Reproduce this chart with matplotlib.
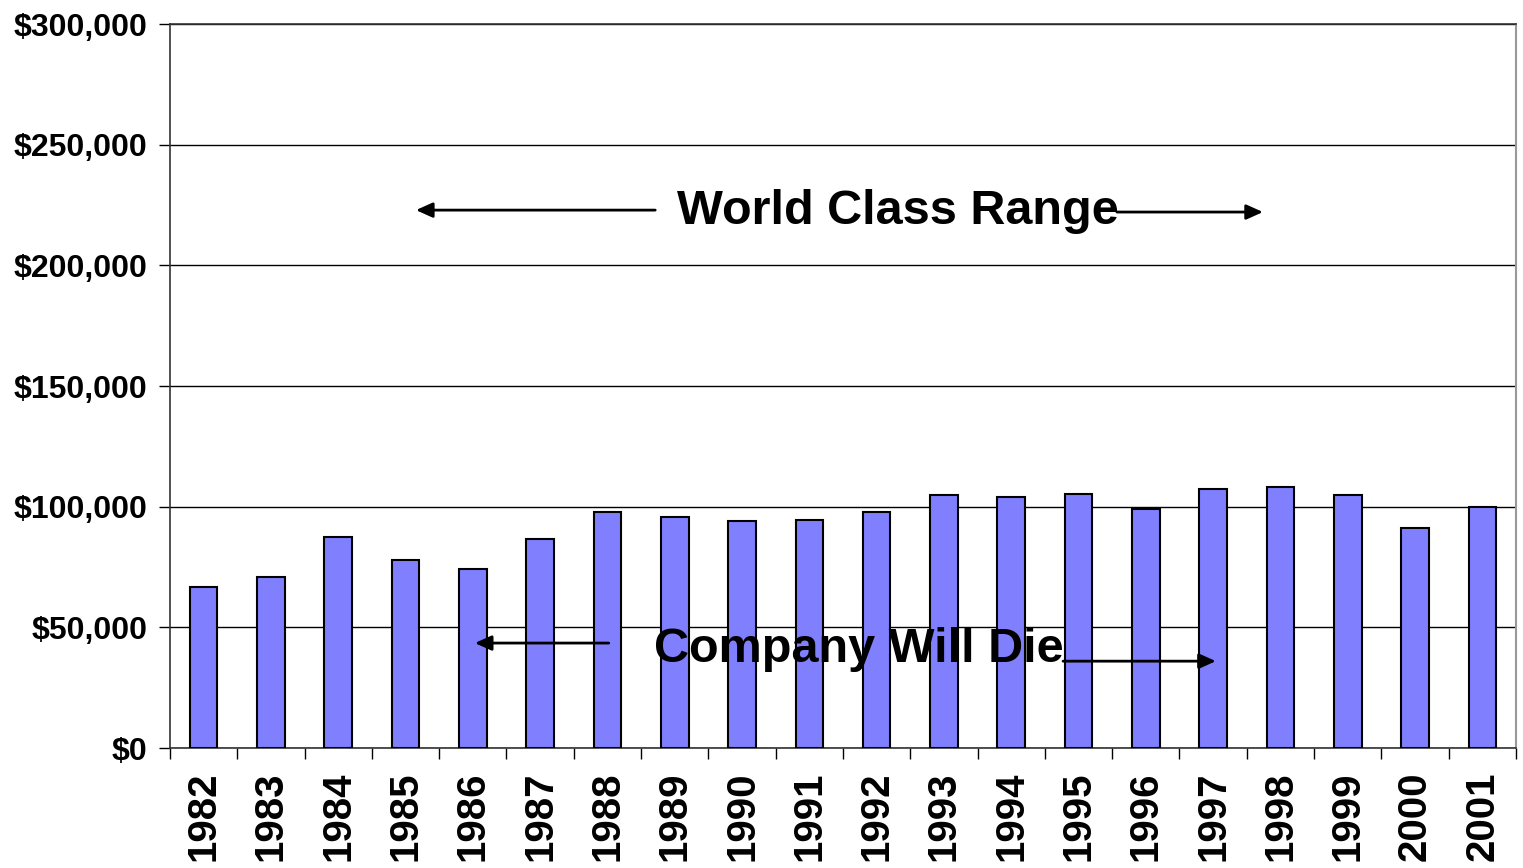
import matplotlib.pyplot as plt
import numpy as np

plt.rcParams['font.family'] = ['Liberation Sans', 'DejaVu Sans']

years = ['1982', '1983', '1984', '1985', '1986', '1987', '1988', '1989', '1990', '1991',
         '1992', '1993', '1994', '1995', '1996', '1997', '1998', '1999', '2000', '2001']
values = [66700, 70700, 87300, 78000, 74000, 86500, 98000, 95900, 94000, 94600,
          97900, 104700, 103900, 105200, 99000, 107200, 108000, 104700, 91300, 99800]
yticks = [0, 50000, 100000, 150000, 200000, 250000, 300000]

fig = plt.figure(figsize=(15.23, 8.68), dpi=100)
ax = fig.add_axes([0.1116, 0.1382, 0.8838, 0.8341])

x = np.arange(len(years))
ax.bar(x, values, width=0.41, color='#8080FF', edgecolor='black', linewidth=1.5, zorder=3)

ax.set_xlim(-0.5, len(years) - 0.5)
ax.set_ylim(0, 300000)

# y axis
ax.set_yticks(yticks)
ax.set_yticklabels(['$' + format(v, ',') for v in yticks], fontsize=23, fontweight='bold')
ax.tick_params(axis='y', length=8, width=1, pad=8, direction='out')
ax.yaxis.grid(True, color='black', linewidth=1, zorder=0)

# x axis: labels at centres, ticks at boundaries
ax.set_xticks(x)
ax.set_xticklabels(years, rotation=90, fontsize=29, fontweight='bold')
ax.tick_params(axis='x', which='major', length=0, pad=17)
ax.set_xticks(np.arange(-0.5, len(years)), minor=True)
ax.tick_params(axis='x', which='minor', length=8, width=1, direction='out')

for s in ['left', 'bottom', 'top']:
    ax.spines[s].set_color('#333333')
    ax.spines[s].set_linewidth(1.2)
ax.spines['right'].set_color('#999999')
ax.spines['right'].set_linewidth(1.5)

# annotations
ax.text(10.31, 222400, 'World Class Range', fontsize=35, fontweight='bold',
        ha='center', va='center', zorder=5)
ax.text(9.73, 40700, 'Company Will Die', fontsize=35, fontweight='bold',
        ha='center', va='center', zorder=5)

arrow = dict(arrowstyle='-|>,head_length=1.0,head_width=0.45', color='black', lw=2,
             shrinkA=0, shrinkB=0)
ax.annotate('', xy=(3.155, 222900), xytext=(6.71, 222900), arrowprops=arrow, zorder=5)
ax.annotate('', xy=(15.74, 222100), xytext=(13.57, 222100), arrowprops=arrow, zorder=5)
ax.annotate('', xy=(4.03, 43500), xytext=(6.02, 43500), arrowprops=arrow, zorder=5)
ax.annotate('', xy=(15.04, 36000), xytext=(12.77, 36000), arrowprops=arrow, zorder=5)

fig.savefig('out.png', dpi=100)
